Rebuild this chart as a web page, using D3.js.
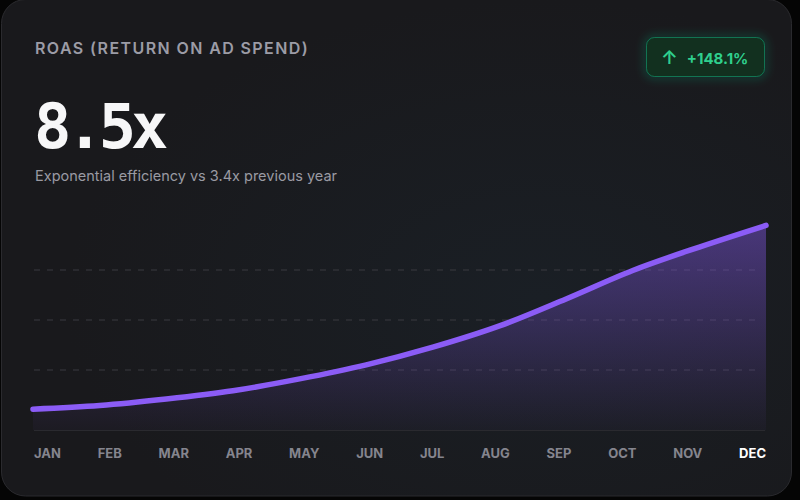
<!DOCTYPE html>
<html>
<head>
<meta charset="utf-8">
<script src="https://cdn.jsdelivr.net/npm/d3@7"></script>
<style>
  html, body { margin: 0; padding: 0; background: #050505; }
  svg { display: block; }
</style>
</head>
<body>
<svg id="chart" width="800" height="500"></svg>
<script>
// data
var months = ["JAN", "FEB", "MAR", "APR", "MAY", "JUN", "JUL", "AUG", "SEP", "OCT", "NOV", "DEC"];
var roas = [3.4, 3.5, 3.68, 3.91, 4.24, 4.63, 5.12, 5.71, 6.46, 7.25, 7.9, 8.5];
var yDomain = [3.1, 8.65];
var gridFractions = [0.25, 0.5, 0.75];
var title = "ROAS (RETURN ON AD SPEND)";
var headline = "8.5x";
var subtitle = "Exponential efficiency vs 3.4x previous year";
var change = "+148.1%";

var svg = d3.select("#chart");
var defs = svg.append("defs");

// card background
var bg = defs.append("radialGradient").attr("id", "cardGlow")
  .attr("cx", "0.68").attr("cy", "0.6").attr("r", "0.6");
bg.append("stop").attr("offset", "0%").attr("stop-color", "#1a1f25");
bg.append("stop").attr("offset", "100%").attr("stop-color", "#19191c");

var areaGrad = defs.append("linearGradient").attr("id", "areaFill")
  .attr("x1", 0).attr("y1", 0).attr("x2", 0).attr("y2", 1);
areaGrad.append("stop").attr("offset", "0%").attr("stop-color", "#8b5cf6").attr("stop-opacity", 0.42);
areaGrad.append("stop").attr("offset", "100%").attr("stop-color", "#8b5cf6").attr("stop-opacity", 0.03);

var glow = defs.append("filter").attr("id", "badgeGlow")
  .attr("x", "-30%").attr("y", "-60%").attr("width", "160%").attr("height", "220%");
glow.append("feGaussianBlur").attr("in", "SourceGraphic").attr("stdDeviation", 4);

svg.append("rect")
  .attr("x", 1.5).attr("y", -0.5).attr("width", 790).attr("height", 496.5)
  .attr("rx", 24)
  .attr("fill", "url(#cardGlow)")
  .attr("stroke", "#2a2a2e").attr("stroke-width", 1);

// header texts
svg.append("text")
  .attr("x", 35).attr("y", 54)
  .attr("font-family", "Inter, sans-serif").attr("font-size", 16).attr("font-weight", 600)
  .attr("letter-spacing", 1.4)
  .attr("fill", "#9c9ca6")
  .text(title);

svg.append("text")
  .attr("x", 34).attr("y", 148)
  .attr("font-family", "'DejaVu Sans Mono', monospace").attr("font-size", 62).attr("font-weight", 700)
  .attr("letter-spacing", "-0.08em")
  .attr("fill", "#f7f7f8")
  .text(headline);

svg.append("text")
  .attr("x", 35).attr("y", 181)
  .attr("font-family", "Inter, sans-serif").attr("font-size", 14.5)
  .attr("fill", "#9a9aa3")
  .text(subtitle);

// change badge
var badge = svg.append("g").attr("transform", "translate(646,37)");
badge.append("rect")
  .attr("width", 119).attr("height", 40).attr("rx", 8)
  .attr("fill", "none").attr("stroke", "#10b981").attr("stroke-opacity", 0.45).attr("stroke-width", 3)
  .attr("filter", "url(#badgeGlow)");
badge.append("rect")
  .attr("x", 0.5).attr("y", 0.5).attr("width", 118).attr("height", 39).attr("rx", 8)
  .attr("fill", "#12301f").attr("stroke", "#10b981").attr("stroke-opacity", 0.5);
var badgeText = badge.append("text")
  .attr("x", 15).attr("y", 26.5)
  .attr("font-family", "Inter, sans-serif").attr("font-size", 15).attr("font-weight", 700)
  .attr("fill", "#2fcf8e");
badgeText.append("tspan").attr("font-size", 19).attr("font-weight", 600).text("\u2191");
badgeText.append("tspan").attr("dx", 9).text(change);

// chart
var x = d3.scalePoint().domain(months).range([33, 766]);
var y = d3.scaleLinear().domain(yDomain).range([420, 220]);

svg.append("g").selectAll("line")
  .data(gridFractions)
  .join("line")
  .attr("x1", 34).attr("x2", 760)
  .attr("y1", function (f) { return y(yDomain[0] + f * (yDomain[1] - yDomain[0])); })
  .attr("y2", function (f) { return y(yDomain[0] + f * (yDomain[1] - yDomain[0])); })
  .attr("stroke", "#3a3a40").attr("stroke-width", 1).attr("stroke-dasharray", "6,7");

svg.append("line")
  .attr("x1", 34).attr("x2", 765).attr("y1", 430.5).attr("y2", 430.5)
  .attr("stroke", "#2a2a2f").attr("stroke-width", 1);

var area = d3.area()
  .x(function (d, i) { return x(months[i]); })
  .y0(430)
  .y1(function (d) { return y(d); })
  .curve(d3.curveCatmullRom.alpha(0.5));

var line = d3.line()
  .x(function (d, i) { return x(months[i]); })
  .y(function (d) { return y(d); })
  .curve(d3.curveCatmullRom.alpha(0.5));

svg.append("path").datum(roas).attr("d", area).attr("fill", "url(#areaFill)");
svg.append("path").datum(roas).attr("d", line)
  .attr("fill", "none").attr("stroke", "#8b5cf6").attr("stroke-width", 5.5)
  .attr("stroke-linecap", "round").attr("stroke-linejoin", "round");

// month labels, spread edge to edge
var labels = svg.append("g").selectAll("text")
  .data(months)
  .join("text")
  .attr("y", 458)
  .attr("font-family", "Inter, sans-serif").attr("font-size", 13).attr("font-weight", 700)
  .attr("fill", function (d, i) { return i === months.length - 1 ? "#ffffff" : "#85858e"; })
  .text(function (d) { return d; });

var widths = [];
labels.each(function () { widths.push(this.getComputedTextLength()); });
var left = 34, right = 766;
var gap = (right - left - d3.sum(widths)) / (months.length - 1);
var cursor = left;
labels.attr("x", function (d, i) {
  var pos = cursor;
  cursor += widths[i] + gap;
  return pos;
});
</script>
</body>
</html>
